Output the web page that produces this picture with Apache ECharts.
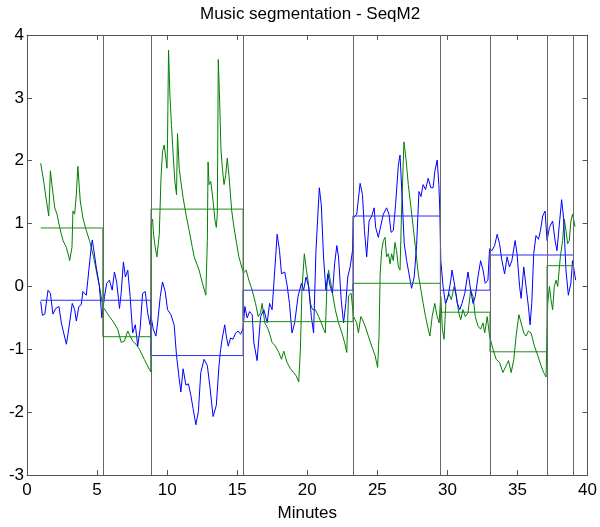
<!DOCTYPE html>
<html>
<head>
<meta charset="utf-8">
<title>Music segmentation - SeqM2</title>
<script src="https://cdn.jsdelivr.net/npm/echarts@6.0.0/dist/echarts.min.js"></script>
<style>
    html, body { margin: 0; padding: 0; background: #fff; }
    #chart { width: 600px; height: 527px; }
</style>
</head>
<body>
<div id="chart"></div>
<script>
// --- data (minutes / feature value) ---
const blueMin = [0.98,1.10,1.27,1.50,1.67,1.85,2.05,2.28,2.45,2.81,
    2.99,3.23,3.40,3.52,3.70,3.87,3.99,4.23,4.34,4.58,
    4.66,4.94,5.17,5.34,5.53,5.69,5.88,6.08,6.24,6.40,
    6.60,6.72,6.88,7.02,7.19,7.36,7.54,7.73,7.90,8.07,
    8.25,8.44,8.61,8.78,8.85,9.01,9.20,9.32,9.51,9.67,
    9.86,10.03,10.27,10.50,10.67,10.86,10.98,11.14,11.34,11.52,
    11.69,11.85,12.05,12.23,12.40,12.64,12.87,13.04,13.28,13.51,
    13.70,13.82,13.94,14.11,14.22,14.36,14.53,14.70,14.89,15.07,
    15.24,15.41,15.55,15.71,15.88,16.07,16.19,16.42,16.67,16.90,
    17.14,17.31,17.49,17.68,17.85,18.02,18.16,18.39,18.56,18.73,
    18.91,19.10,19.34,19.58,19.74,19.91,20.10,20.29,20.45,20.62,
    20.86,21.00,21.16,21.33,21.47,21.64,21.80,21.95,22.11,22.23,
    22.42,22.59,22.75,22.89,23.06,23.23,23.30,23.53,23.77,23.94,
    24.08,24.24,24.41,24.60,24.77,24.88,25.07,25.27,25.43,25.66,
    25.83,25.98,26.14,26.30,26.50,26.62,26.78,26.92,27.09,27.26,
    27.44,27.63,27.80,27.97,28.11,28.27,28.44,28.63,28.82,28.98,
    29.10,29.27,29.39,29.46,29.53,29.69,29.86,30.05,30.24,30.33,
    30.53,30.71,30.88,31.04,31.24,31.47,31.66,31.83,31.99,32.18,
    32.37,32.54,32.70,32.89,33.01,33.18,33.37,33.55,33.72,33.89,
    34.08,34.26,34.43,34.60,34.83,34.97,35.15,35.26,35.45,35.61,
    35.78,35.90,36.02,36.16,36.32,36.50,36.64,36.80,36.97,37.11,
    37.28,37.51,37.68,37.82,37.99,38.15,38.29,38.46,38.63,38.81,
    38.93,39.15];
const blueVal = [-0.24,-0.46,-0.44,-0.06,-0.11,-0.44,-0.35,-0.32,-0.58,-0.92,
    -0.66,-0.27,-0.37,-0.55,-0.32,-0.29,-0.08,-0.14,0.10,0.62,
    0.74,0.31,0.00,-0.50,-0.16,0.05,0.10,-0.06,0.23,0.07,
    -0.35,-0.11,0.39,0.15,0.26,-0.16,-0.74,-0.61,-0.95,-0.68,
    -0.11,-0.08,-0.42,-0.61,-0.48,-0.68,-0.79,-0.58,-0.16,0.07,
    -0.08,-0.37,-0.45,-0.61,-1.10,-1.47,-1.68,-1.31,-1.57,-1.55,
    -1.73,-1.94,-2.20,-1.99,-1.37,-1.16,-1.26,-1.57,-2.07,-1.89,
    -1.26,-1.00,-0.82,-0.61,-0.79,-0.95,-0.82,-0.84,-0.74,-0.71,
    -0.76,-0.68,-0.32,-0.50,-0.40,-0.45,-0.90,-1.18,-0.48,-0.37,
    -0.58,-0.27,-0.37,0.26,0.83,0.57,0.20,0.23,0.02,-0.27,
    -0.74,-0.58,-0.16,0.05,-0.06,0.15,0.00,-0.48,-0.74,0.57,
    1.57,1.30,0.47,-0.06,0.20,0.00,-0.11,0.36,0.65,0.47,
    -0.21,-0.58,-0.27,0.15,0.31,0.57,1.09,1.15,1.64,1.46,
    0.89,0.47,1.04,1.12,1.25,0.94,0.78,0.99,1.15,1.25,
    1.15,0.86,0.89,1.30,1.93,2.09,1.36,0.68,0.41,0.20,
    -0.03,0.15,0.65,1.51,1.43,1.62,1.54,1.72,1.57,1.57,
    1.83,2.01,1.62,1.20,0.41,0.00,-0.27,-0.16,0.10,0.26,
    0.00,-0.27,-0.37,-0.27,-0.11,0.23,-0.06,-0.27,-0.16,0.15,
    0.41,0.26,0.05,0.10,0.60,0.57,0.65,0.83,0.68,0.41,
    0.20,0.47,0.31,0.41,0.73,0.52,0.00,-0.19,0.31,0.00,
    -0.32,-0.61,-0.27,0.52,0.81,0.75,0.89,1.12,1.20,0.73,
    0.94,1.04,0.73,0.57,0.99,1.38,1.09,0.26,-0.14,0.05,
    0.41,0.10];

const greenMin = [0.98,1.19,1.39,1.55,1.67,1.78,1.98,2.14,2.33,2.57,
    2.81,2.99,3.04,3.21,3.28,3.40,3.52,3.63,3.80,3.99,
    4.23,4.46,4.75,5.17,5.41,5.65,5.88,6.12,6.47,6.72,
    6.95,7.19,7.36,7.54,7.78,8.02,8.37,8.73,8.83,8.86,
    8.96,9.03,9.15,9.27,9.44,9.56,9.67,9.79,9.91,9.99,
    10.03,10.10,10.20,10.31,10.43,10.55,10.67,10.74,10.86,10.98,
    11.14,11.34,11.57,11.80,11.93,12.28,12.52,12.76,12.87,12.92,
    12.99,13.11,13.23,13.42,13.51,13.58,13.65,13.75,13.84,13.94,
    14.06,14.18,14.29,14.41,14.61,14.77,14.96,15.12,15.36,15.48,
    15.64,15.83,16.07,16.31,16.50,16.67,16.78,16.97,17.21,17.49,
    17.73,17.97,18.16,18.32,18.56,18.80,19.03,19.20,19.39,19.51,
    19.62,19.79,19.94,20.05,20.22,20.38,20.58,20.81,21.00,21.16,
    21.29,21.40,21.52,21.64,21.80,22.00,22.23,22.47,22.66,22.82,
    22.94,23.13,23.30,23.42,23.53,23.65,23.82,23.94,24.13,24.36,
    24.60,24.84,25.02,25.12,25.20,25.31,25.43,25.55,25.66,25.79,
    25.91,26.02,26.14,26.26,26.37,26.50,26.62,26.73,26.90,27.04,
    27.21,27.40,27.56,27.72,27.92,28.11,28.27,28.44,28.63,28.75,
    28.91,29.10,29.27,29.41,29.53,29.64,29.76,29.89,30.10,30.28,
    30.48,30.64,30.81,30.95,31.11,31.28,31.47,31.66,31.83,31.99,
    32.18,32.37,32.54,32.66,32.84,33.01,33.25,33.48,33.72,33.96,
    34.19,34.36,34.55,34.74,34.90,35.10,35.26,35.45,35.61,35.78,
    35.97,36.21,36.45,36.68,36.87,37.04,37.16,37.28,37.39,37.51,
    37.63,37.75,37.87,38.06,38.22,38.34,38.46,38.58,38.70,38.81,
    38.93,39.11];
const greenVal = [1.96,1.67,1.36,1.12,1.84,1.62,1.25,1.15,0.94,0.73,
    0.62,0.47,0.41,0.62,1.20,1.15,1.46,1.91,1.36,1.09,
    0.89,0.73,0.47,0.00,-0.32,-0.40,-0.48,-0.55,-0.68,-0.89,
    -0.87,-0.71,-0.79,-0.87,-0.92,-1.00,-1.16,-1.32,-1.36,1.00,
    1.07,0.83,0.62,0.47,0.83,1.72,2.14,2.25,2.04,1.88,
    2.35,3.76,3.03,2.56,2.09,1.67,1.46,2.43,1.88,1.67,
    1.41,1.15,0.89,0.62,0.47,0.26,0.05,-0.14,0.73,1.98,
    1.62,1.67,1.46,1.04,0.94,1.15,3.61,2.93,2.19,1.88,
    1.62,1.77,2.04,1.77,1.20,0.94,0.68,0.47,0.28,0.22,
    0.26,0.10,-0.06,-0.27,-0.48,-0.42,-0.27,-0.58,-0.68,-0.89,
    -0.95,-1.05,-1.16,-1.03,-1.21,-1.31,-1.37,-1.42,-1.52,-1.00,
    -0.06,0.52,0.26,0.10,-0.27,-0.37,-0.37,-0.48,-0.58,-0.68,
    -0.74,0.00,0.26,0.10,-0.11,-0.37,-0.58,-0.74,-0.89,-1.05,
    -0.15,-0.11,-0.48,-0.53,-0.58,-0.74,-0.48,-0.53,-0.63,-0.79,
    -0.95,-1.10,-1.29,-0.79,0.20,0.57,0.73,0.78,0.47,0.52,
    0.36,0.52,0.41,0.70,0.57,0.31,0.26,1.20,2.30,2.04,
    1.62,1.25,0.94,0.62,0.20,-0.06,-0.27,-0.48,-0.68,-0.79,
    -0.48,-0.27,-0.48,-0.58,-0.16,-0.68,-0.84,-0.27,-0.11,-0.21,
    0.00,-0.16,-0.42,-0.53,-0.37,-0.48,-0.42,-0.06,-0.16,-0.48,
    -0.63,-0.68,-0.58,-0.74,-0.48,-0.79,-1.00,-1.16,-1.21,-1.37,
    -1.26,-1.18,-1.37,-1.16,-0.79,-0.45,-0.58,-0.74,-0.79,-0.71,
    -0.74,-0.95,-1.10,-1.26,-1.37,-1.44,-0.27,0.00,-0.21,-0.37,
    0.00,0.10,0.00,0.47,0.73,1.07,0.89,0.68,0.73,1.04,
    1.15,0.95];

// segment edges (minutes) and per-segment means
const segEdges = [0.98, 5.41, 8.85, 15.42, 23.26, 29.50, 33.04, 37.11, 38.98];
const blueMeans = [-0.22, -0.22, -1.10, -0.06, 1.12, -0.06, 0.50, 0.50];
const greenMeans = [0.93, -0.80, 1.23, -0.56, 0.05, -0.41, -1.04, 0.33];

const chart = echarts.init(document.getElementById('chart'));
const font = '"Liberation Sans", Arial, Helvetica, sans-serif';
const axisColor = '#555';

const pairs = (xs, ys) => xs.map((x, i) => [x, ys[i]]);
// step line: horizontal at each segment mean, vertical joins at the edges
const steps = (means) => {
    const out = [];
    means.forEach((m, i) => {
        out.push([segEdges[i], m]);
        out.push([segEdges[i + 1], m]);
    });
    return out;
};

const baseAxis = (pos, min, max, step) => ({
    type: 'value',
    position: pos,
    min: min,
    max: max,
    interval: step,
    axisLine: { show: true, onZero: false, lineStyle: { color: axisColor, width: 1 } },
    axisTick: { show: true, inside: true, length: 5, lineStyle: { color: axisColor } },
    splitLine: { show: false },
    axisLabel: { show: false }
});

const labelStyle = { show: true, color: '#000', fontSize: 17, fontFamily: font };

const option = {
    animation: false,
    backgroundColor: '#fff',
    title: {
        text: 'Music segmentation - SeqM2',
        left: 195,
        top: 1,
        textStyle: { color: '#000', fontSize: 17, fontWeight: 'normal', fontFamily: font }
    },
    grid: { left: 27, right: 10, top: 35, bottom: 47 },
    xAxis: [
        Object.assign(baseAxis('bottom', 0, 40, 5), {
            axisLabel: Object.assign({ margin: 7 }, labelStyle),
            name: 'Minutes',
            nameLocation: 'middle',
            nameGap: 30,
            nameTextStyle: { color: '#000', fontSize: 17, fontFamily: font }
        }),
        baseAxis('top', 0, 40, 5)
    ],
    yAxis: [
        Object.assign(baseAxis('left', -3, 4, 1), {
            axisLabel: Object.assign({ margin: 3 }, labelStyle)
        }),
        baseAxis('right', -3, 4, 1)
    ],
    series: [
        {
            // segment boundaries
            type: 'line',
            data: [],
            silent: true,
            markLine: {
                silent: true,
                symbol: ['none', 'none'],
                label: { show: false },
                lineStyle: { color: '#666', type: 'solid', width: 1 },
                data: segEdges.slice(1).map(b => ({ xAxis: b }))
            }
        },
        {
            name: 'green',
            type: 'line',
            data: pairs(greenMin, greenVal),
            symbol: 'none',
            lineStyle: { color: '#008000', width: 1 }
        },
        {
            name: 'blue',
            type: 'line',
            data: pairs(blueMin, blueVal),
            symbol: 'none',
            lineStyle: { color: '#0000ff', width: 1 }
        },
        {
            name: 'green mean',
            type: 'line',
            data: steps(greenMeans),
            symbol: 'none',
            lineStyle: { color: '#1a8c1a', width: 1 }
        },
        {
            name: 'blue mean',
            type: 'line',
            data: steps(blueMeans),
            symbol: 'none',
            lineStyle: { color: '#2b2bff', width: 1 }
        }
    ]
};

chart.setOption(option);
</script>
</body>
</html>
